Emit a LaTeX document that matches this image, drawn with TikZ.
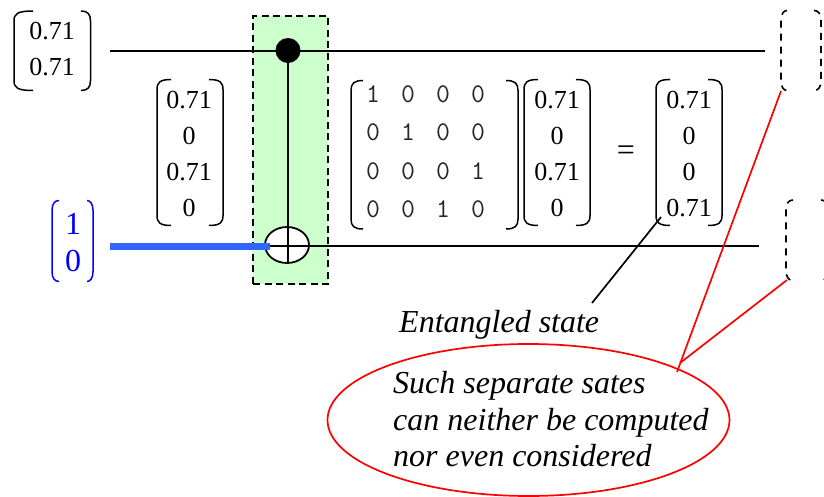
\documentclass[tikz,border=0pt]{standalone}
\usepackage{fontspec}
\setmainfont{Liberation Serif}
\usetikzlibrary{shapes.geometric,matrix}
\definecolor{gatefill}{HTML}{CCFFCC}
\definecolor{wireblue}{HTML}{3366FF}
\tikzset{
  x=1pt,y=-1pt,
  brk/.style={line width=1.5pt,black},
  brkblue/.style={line width=1.5pt,blue},
  brkdash/.style={line width=1.6pt,black,dash pattern=on 7pt off 6pt},
  wire/.style={line width=2pt,black},
  vec/.style={font=\fontsize{26}{36}\selectfont,align=center,inner sep=0pt,anchor=center},
  bluevec/.style={font=\fontsize{32}{37}\selectfont,align=center,inner sep=0pt,anchor=center,text=blue},
  note/.style={font=\fontsize{32}{36.5}\selectfont\itshape,align=left,inner sep=0pt},
  redline/.style={line width=1.7pt,red},
}
\newcommand{\brkpair}[7]{% style, xL, xLend, xRend, xR, top, bottom
  \draw[#1] (#3,#6) .. controls (#2+3,#6) and (#2,#6+3) .. (#2,#6+10) -- (#2,#7-10) .. controls (#2,#7-3) and (#2+3,#7) .. (#3,#7);
  \draw[#1] (#4,#6) .. controls (#5-3,#6) and (#5,#6+3) .. (#5,#6+10) -- (#5,#7-10) .. controls (#5,#7-3) and (#5-3,#7) .. (#4,#7);
}
\begin{document}
\begin{tikzpicture}
\useasboundingbox (0,0) rectangle (824,497);
\fill[white] (0,0) rectangle (824,497);
% gate background
\node[draw=black,fill=gatefill,line width=1.5pt,dash pattern=on 7pt off 4.5pt,minimum width=75pt,minimum height=268pt,inner sep=0pt] (gate) at (290.5,150) {};
% wires
\coordinate (w1s) at (110,51);
\coordinate (w1e) at (765,51);
\coordinate (w2s) at (110,246);
\coordinate (w2m) at (270,245.5);
\coordinate (w2e) at (759,245.5);
\coordinate (w2b) at (270,246);
\node[ellipse,draw=black,fill=white,line width=1.8pt,minimum width=44pt,minimum height=36pt,inner sep=0pt] (xor) at (287,245) {};
\draw[wire] (w1s) -- (w1e);
\node[circle,fill=black,minimum size=25pt,inner sep=0pt] (ctrl) at (288,50.5) {};
\draw[wire] (w2m) -- (w2e);
\draw[wire] (ctrl.center) -- (288,264);
\draw[line width=7pt,wireblue] (w2s) -- (w2b);
% vectors
\node[vec] (v1) at (52,49.5) {0.71\\0.71};
\brkpair{brk}{14}{33}{81}{90.5}{11}{90.5}
\node[vec] (v2) at (189,154) {0.71\\0\\0.71\\0};
\brkpair{brk}{157}{171}{209}{223}{79.5}{225.5}
\node[bluevec] (v3) at (73,243) {1\\0};
\brkpair{brkblue}{52}{59}{87}{93}{200.5}{281.5}
\matrix (m3) [matrix of nodes,inner sep=0pt,row sep=0pt,column sep=0pt,
  nodes={font=\ttfamily\fontsize{27}{27}\selectfont,minimum width=35pt,minimum height=38.3pt,inner sep=0pt,text=black!85}] at (425.5,151.5) {
  1 & 0 & 0 & 0 \\
  0 & 1 & 0 & 0 \\
  0 & 0 & 0 & 1 \\
  0 & 0 & 1 & 0 \\
};
\brkpair{brk}{351}{363}{506}{518}{80.5}{229}
\node[vec] (v4) at (557,154) {0.71\\0\\0.71\\0};
\brkpair{brk}{524}{538}{576}{590}{79.5}{225.5}
\node[inner sep=0pt,font=\fontsize{32}{36}\selectfont] (eq) at (626,153) {=};
\node[vec] (v5) at (689,154) {0.71\\0\\0\\0.71};
\brkpair{brk}{656}{670}{708}{722}{79.5}{225.5}
% missing separate states
\brkpair{brkdash}{781}{787}{814}{821}{10.5}{90.5}
\brkpair{brkdash}{786}{793}{821}{828}{200}{280.5}
\coordinate (d1) at (781,91);
\coordinate (d2) at (787,280);
\coordinate (v5c) at (661,217);
% notes
\node[note,anchor=base west] (ent) at (399,332) {Entangled state};
\node[ellipse,draw=red,line width=1.7pt,minimum width=402pt,minimum height=152pt,inner sep=0pt] (oval) at (528.5,420) {};
\node[note,anchor=west] (sep) at (393,419.5) {Such separate sates\\can neither be computed\\nor even considered};
\coordinate (entc) at (592,303);
\coordinate (tip) at (677,372);
\coordinate (tipb) at (680,363);
\draw[line width=1.7pt,black] (v5c) -- (entc);
\draw[redline] (d1) -- (tip);
\draw[redline] (d2) -- (tipb);
\end{tikzpicture}
\end{document}
